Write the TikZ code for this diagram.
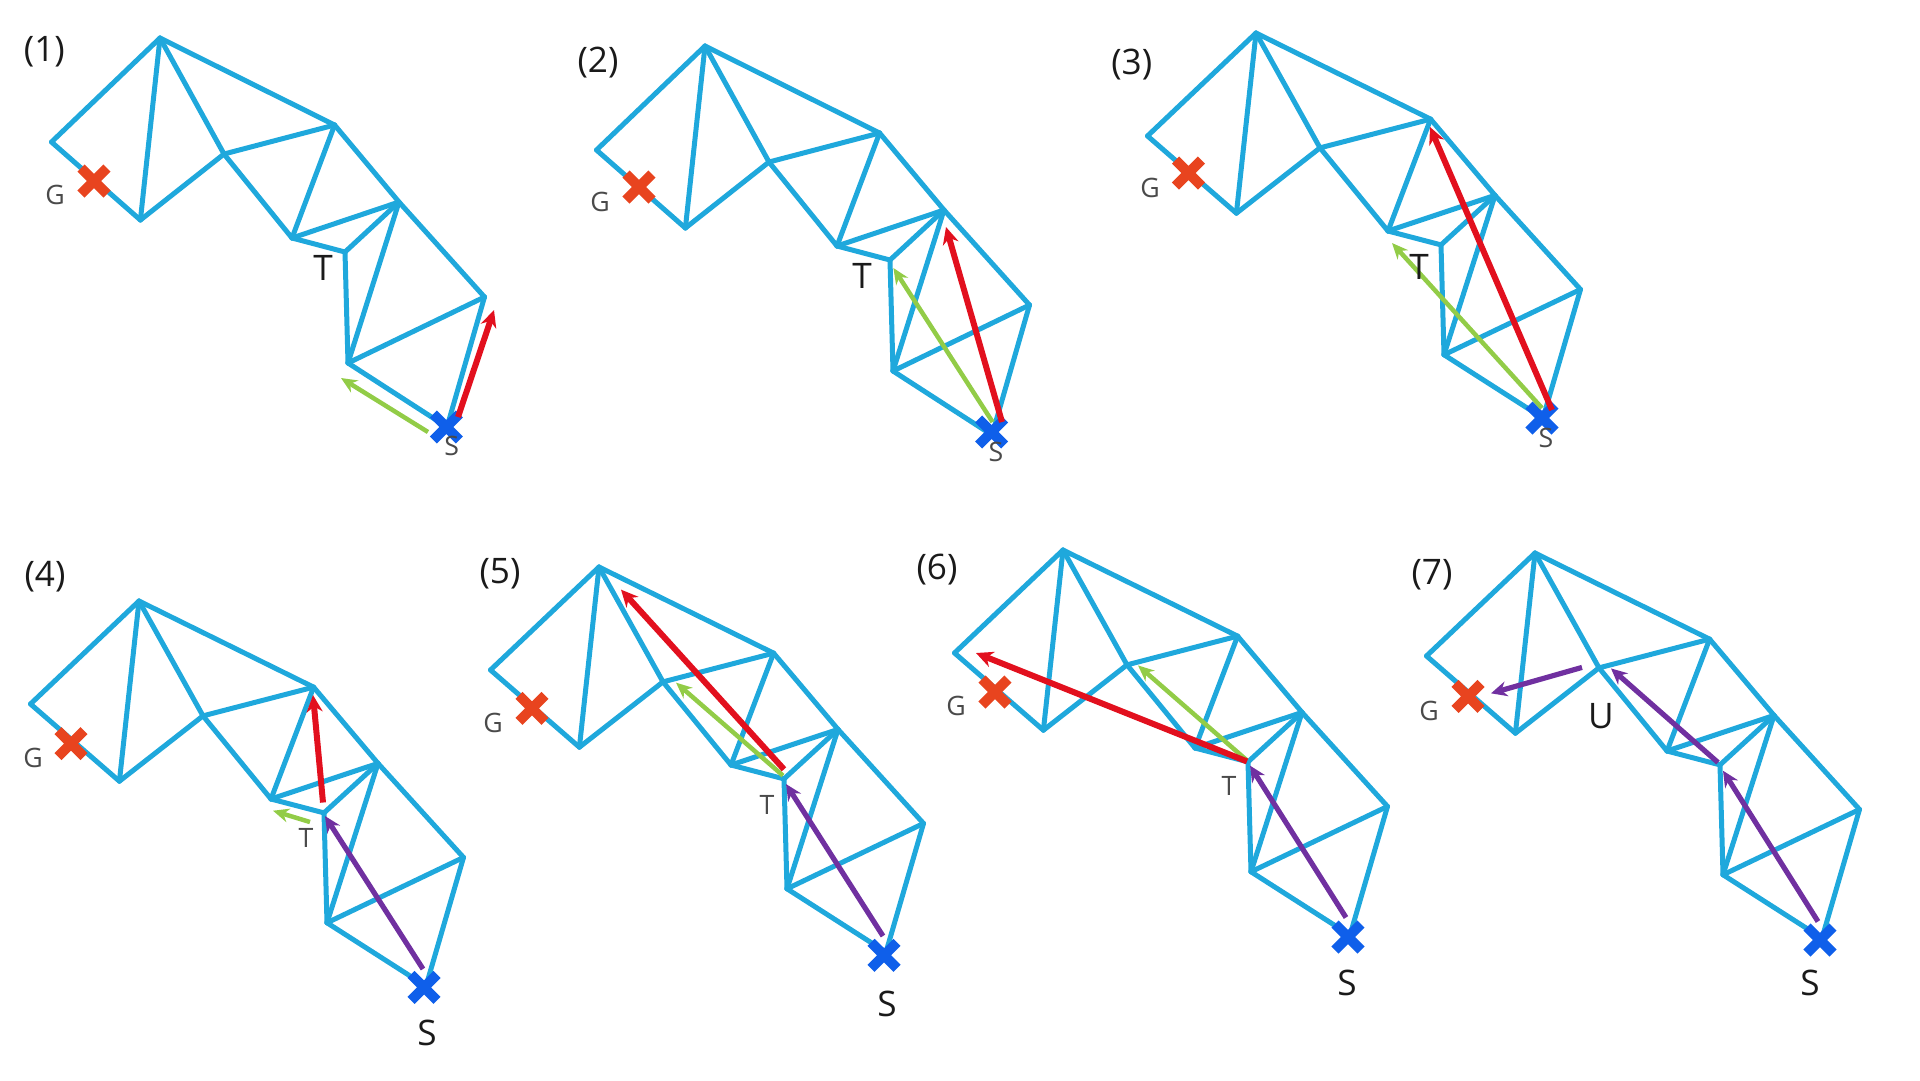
\documentclass[tikz,border=0pt]{standalone}
\usepackage{fontspec}
\setmainfont{Open Sans}
\usetikzlibrary{arrows.meta,shapes.misc}
\definecolor{meshc}{HTML}{1FA8DC}
\definecolor{goalc}{HTML}{E8441F}
\definecolor{startc}{HTML}{0F5FEA}
\definecolor{redc}{HTML}{E2101E}
\definecolor{greenc}{HTML}{92CC47}
\definecolor{purplec}{HTML}{7030A0}
\definecolor{ink}{HTML}{1A1A1A}
\definecolor{greyink}{HTML}{4A4A4A}
\tikzset{
  mesh/.style={draw=meshc,line width=0.5mm,line cap=round},
  crossm/.style={cross out,draw=#1,line width=1mm,minimum size=1.6mm,inner sep=0pt},
  redarr/.style={-{Stealth[length=1.7mm,width=1.6mm]},draw=redc,line width=0.6mm},
  greenarr/.style={-{Stealth[length=1.6mm,width=1.4mm]},draw=greenc,line width=0.45mm},
  purplearr/.style={-{Stealth[length=1.6mm,width=1.5mm]},draw=purplec,line width=0.52mm},
  tag/.style={font=\fontsize{10}{12}\selectfont,text=ink,inner sep=0pt},
  biglbl/.style={font=\fontsize{10}{12}\selectfont,text=ink,inner sep=0pt},
  smalllbl/.style={font=\fontsize{7.6}{9}\selectfont,text=greyink,inner sep=0pt},
}
\begin{document}
\begin{tikzpicture}[x=0.1mm,y=-0.1mm]
  \useasboundingbox (0,0) rectangle (1920,1080);
  % one mesh per panel
  \foreach \p/\x/\y/\sy in {p1/160/38/1,p2/705/46/1,p3/1256/33/0.99,
      p4/139/601/0.99,p5/599/567/0.99,p6/1063/550/0.99,p7/1535/553/0.99}{
    \begin{scope}[shift={(\x,\y)},yscale=\sy]
      \foreach \v/\vx/\vy in {a/0/0,l/-108.5/104,b/-19.6/182,c/64/116,d/174.6/87,e/132/200,
          f/239/164,h/185/214,i/188/325,j/324.5/259,k/287/389}{
        \coordinate (\p\v) at (\vx,\vy);
      }
      \foreach \u/\v in {a/l,l/b,a/b,b/c,a/c,a/d,c/d,c/e,d/e,d/f,e/f,e/h,h/f,h/i,f/i,f/j,i/j,i/k,j/k}{
        \draw[mesh] (\p\u) -- (\p\v);
      }
    \end{scope}
  }
  % goal and start crosses
  \foreach \p/\x/\y in {p1/94/181,p2/639/187,p3/1188.5/173,p4/71/743.6,p5/532/708.4,p6/995/692,p7/1468/696.4}{
    \node[crossm=goalc] (\p goal) at (\x,\y) {};
  }
  \foreach \p/\x/\y in {p1/446.4/427,p2/991.6/432,p3/1542/418,p4/424/987.4,p5/884/955.3,p6/1348/937,p7/1820/940}{
    \node[crossm=startc] (\p start) at (\x,\y) {};
  }
  % arrows
  \foreach \n/\xa/\ya/\xb/\yb in {p1g/428/432/341/378,p2g/992.6/422/893.4/268,p3g/1542/408/1392/243,
      p4g/310/822/273/810.7,p5g/783/775.6/676/682.6,p6g/1247/760.4/1138/665.4}{
    \coordinate (\n from) at (\xa,\ya);
    \coordinate (\n to) at (\xb,\yb);
    \draw[greenarr] (\n from) -- (\n to);
  }
  \foreach \n/\xa/\ya/\xb/\yb in {p1r/458/417/494/310,p2r/1002/422/946/227,p3r/1552/410/1430/127,
      p4r/323/802.5/313/695,p5r/784/769.3/621/589.6,p6r/1247/761.4/976/653}{
    \coordinate (\n from) at (\xa,\ya);
    \coordinate (\n to) at (\xb,\yb);
    \draw[redarr] (\n from) -- (\n to);
  }
  \foreach \n/\xa/\ya/\xb/\yb in {p4v/423/969/325/816,p5v/883/936/786/784,p6v/1346/917.5/1250/765.6,
      p7v/1818/921.5/1723/770.7,p7w/1718/762.5/1611/668.4,p7z/1582/667.4/1491/693.3}{
    \coordinate (\n from) at (\xa,\ya);
    \coordinate (\n to) at (\xb,\yb);
    \draw[purplearr] (\n from) -- (\n to);
  }
  % panel numbers
  \foreach \n/\x/\y in {1/44.4/52,2/598/63,3/1131.7/65,4/45/577,5/500/574,6/937/570,7/1432/574.4}{
    \node[tag] (num\n) at (\x,\y) {(\n)};
  }
  % letters
  \foreach \n/\x/\y in {1/55/195,2/600/202,3/1150/188,4/33/758,5/493/723,6/956/705.7,7/1429/711}{
    \node[smalllbl] (labG\n) at (\x,\y) {G};
  }
  \foreach \n/\x/\y in {1/451.6/446,2/996/452,3/1546/438}{
    \node[smalllbl] (labS\n) at (\x,\y) {S};
  }
  \foreach \n/\x/\y in {4/427/1033,5/887/1004,6/1347/982.6,7/1810/982.6}{
    \node[biglbl] (labS\n) at (\x,\y) {S};
  }
  \foreach \n/\x/\y in {1/323/268,2/862/276,3/1419/267}{
    \node[biglbl] (labT\n) at (\x,\y) {T};
  }
  \foreach \n/\x/\y in {4/306/837.6,5/767/804.5,6/1229/786}{
    \node[smalllbl] (labT\n) at (\x,\y) {T};
  }
  \node[biglbl] (labU) at (1601,716) {U};
\end{tikzpicture}
\end{document}
